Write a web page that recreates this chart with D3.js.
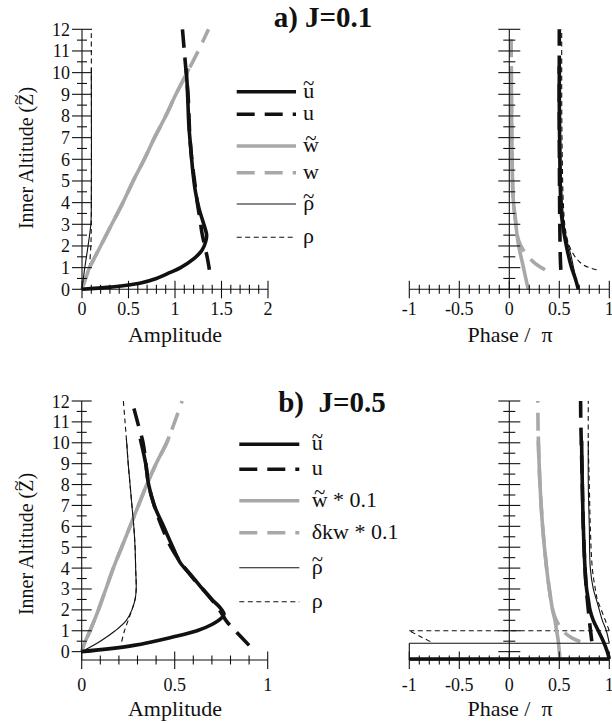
<!DOCTYPE html>
<meta charset="utf-8">
<script src="https://d3js.org/d3.v7.min.js"></script>
<style>
  body { margin: 0; background: #fff; }
  svg { display: block; }
</style>
<div id="my_dataviz"></div>
<script>

  // ---- data: [value, Z] pairs ----
  // a) J=0.1, amplitude
  var ampA_ut = [[0,0],[0.3,0.1],[0.62,0.28],[0.8,0.5],[0.95,0.78],[1.06,1.0],[1.2,1.4],[1.29,1.8],[1.33,2.2],[1.34,2.5],[1.31,3],[1.26,3.7],[1.22,4.5],[1.19,5.5],[1.17,6.5],[1.15,7.5],[1.14,8.5],[1.13,9.5],[1.12,10.2]];
  var ampA_u  = [[1.37,0.9],[1.35,1.4],[1.32,2],[1.29,2.6],[1.27,3.2],[1.24,4],[1.21,5],[1.18,6],[1.16,7],[1.15,8],[1.14,9],[1.12,10],[1.1,11],[1.08,12]];
  var ampA_wt = [[0,0],[0.04,0.5],[0.08,1],[0.14,1.5],[0.2,2],[0.32,3],[0.44,4],[0.55,5],[0.67,6],[0.78,7],[0.9,8],[1.01,9],[1.13,10],[1.15,10.2]];
  var ampA_w  = [[0.08,1],[0.14,1.5],[0.2,2],[0.32,3],[0.44,4],[0.55,5],[0.67,6],[0.78,7],[0.9,8],[1.01,9],[1.13,10],[1.25,11],[1.36,12]];
  var ampA_rt = [[0,0],[0.03,1],[0.065,2],[0.095,3],[0.1,3.6],[0.1,10.2]];
  var ampA_r  = [[0.08,1],[0.095,2],[0.1,3],[0.1,12]];

  // a) J=0.1, phase / pi
  var phA_ut = [[0.69,0],[0.66,0.5],[0.62,1.04],[0.58,1.8],[0.547,2.6],[0.524,3.35],[0.514,4.1],[0.507,5.5],[0.503,7],[0.5,8.5],[0.5,10.3]];
  var phA_u  = [[0.515,0.9],[0.51,1.5],[0.505,3],[0.502,5],[0.5,8],[0.5,12]];
  var phA_wt = [[0.19,0],[0.165,0.5],[0.14,1.04],[0.09,2.1],[0.057,3.35],[0.04,4.1],[0.03,5.5],[0.025,7],[0.022,8.5],[0.02,10.3]];
  var phA_w  = [[0.357,0.9],[0.24,1.27],[0.14,1.8],[0.09,2.3],[0.06,3.3],[0.04,4.1],[0.03,5.5],[0.025,7],[0.022,8.5],[0.02,10],[0.018,12]];
  var phA_rt = [[0.69,0],[0.66,0.6],[0.62,1.5],[0.56,2.6],[0.53,4],[0.515,6],[0.51,8],[0.51,10.2]];
  var phA_r  = [[0.873,0.9],[0.75,1.1],[0.67,1.43],[0.6,2],[0.56,2.8],[0.54,4],[0.53,6],[0.525,8],[0.524,10],[0.524,12]];

  // b) J=0.5, amplitude
  var ampB_ut = [[0,0],[0.28,0.3],[0.49,0.7],[0.62,1.0],[0.7,1.3],[0.75,1.6],[0.765,1.8],[0.745,2.1],[0.7,2.5],[0.64,3.1],[0.58,3.75],[0.53,4.25],[0.49,5],[0.44,6],[0.39,7],[0.36,8],[0.344,9],[0.32,10],[0.315,10.2]];
  var ampB_u  = [[0.9,0.3],[0.83,0.96],[0.78,1.44],[0.74,2],[0.68,2.7],[0.6,3.5],[0.53,4.3],[0.48,5],[0.43,6],[0.39,7],[0.36,8],[0.345,9],[0.33,10],[0.3,11],[0.27,12]];
  var ampB_wt = [[0,0],[0.02,0.5],[0.045,1],[0.09,2],[0.13,3],[0.17,4],[0.215,5],[0.26,6],[0.305,7],[0.35,8],[0.4,9],[0.457,10],[0.47,10.3]];
  var ampB_w  = [[0.03,0.7],[0.045,1],[0.09,2],[0.13,3],[0.17,4],[0.215,5],[0.26,6],[0.305,7],[0.35,8],[0.4,9],[0.457,10],[0.5,11],[0.54,12]];
  var ampB_rt = [[0,0],[0.1,0.5],[0.18,1],[0.24,1.5],[0.27,2],[0.287,2.5],[0.293,3],[0.29,4],[0.287,5],[0.28,6],[0.27,7],[0.26,8],[0.25,9],[0.242,10],[0.24,10.2]];
  var ampB_r  = [[0.215,0.48],[0.23,1],[0.25,1.5],[0.27,2],[0.287,2.5],[0.293,3],[0.29,4],[0.287,5],[0.28,6],[0.27,7],[0.26,8],[0.25,9],[0.242,10],[0.233,11],[0.224,12]];

  // b) J=0.5, phase / pi (jumps of 2 are the wrap from +1 to -1)
  var phB_ut = [[0.723,10.1],[0.73,8],[0.74,6],[0.757,4],[0.773,3],[0.79,2.5],[0.807,2],[0.84,1.5],[0.89,1],[0.94,0.5],[0.98,0],[1,-0.35],[-1,-0.35]];
  var phB_u  = [[0.825,0.5],[0.805,1.3],[0.79,2],[0.77,3],[0.757,4],[0.74,6],[0.73,8],[0.72,10],[0.715,11],[0.713,12]];
  var phB_wt = [[0.507,-0.4],[0.5,0],[0.49,0.5],[0.473,1],[0.457,1.5],[0.433,2],[0.4,3],[0.373,4],[0.333,6],[0.307,8],[0.29,10.3]];
  var phB_w  = [[0.71,0.48],[0.63,0.65],[0.56,0.88],[0.52,1.1],[0.47,1.5],[0.433,2],[0.4,3],[0.373,4],[0.333,6],[0.307,8],[0.29,10],[0.287,11],[0.285,12]];
  var phB_rt = [[-1,-0.4],[-1,0.4],[1,0.4],[0.97,1],[0.93,1.5],[0.9,2],[0.87,2.5],[0.84,3],[0.81,4],[0.8,6],[0.79,8],[0.79,10.1]];
  var phB_r  = [[-0.79,0.48],[-0.9,0.75],[-1,1.0],[1,1.0],[0.96,1.5],[0.92,2],[0.88,2.5],[0.86,3],[0.83,4],[0.81,6],[0.8,8],[0.79,10],[0.79,12]];

  // tick labels and legend texts ("~" marks a tilde over the next letter)
  var zTicks = [0,1,2,3,4,5,6,7,8,9,10,11,12];
  var ampATicks = [0, 0.5, 1, 1.5, 2];
  var ampBTicks = [0, 0.5, 1];
  var phaseTicks = [-1, -0.5, 0, 0.5, 1];
  var legendA = ["~u", "u", "~w", "w", "~ρ", "ρ"];
  var legendB = ["~u", "u", "~w * 0.1", "δkw * 0.1", "~ρ", "ρ"];
  var yTitle = "Inner Altitude (~Z)";

  // ---- styles ----
  var FONT = "'Liberation Serif', 'Times New Roman', 'DejaVu Serif', serif";
  var gray = "#a8a8a8", ink = "#111";
  var styles = {
    ut: { color: ink, width: 3.6, dash: null },
    u:  { color: ink, width: 3.6, dash: "18,10" },
    wt: { color: gray, width: 3.6, dash: null },
    w:  { color: gray, width: 3.6, dash: "18,10" },
    rt: { color: ink, width: 1.1, dash: null },
    r:  { color: ink, width: 1.1, dash: "5,3.5" }
  };
  var order = ["w", "u", "r", "wt", "ut", "rt"];
  var tickFont = 18;

  var svg = d3.select("#my_dataviz")
    .append("svg")
    .attr("width", 612)
    .attr("height", 724)
    .attr("font-family", FONT)
    .attr("fill", ink);

  function measure(txt, size) {
    var t = svg.append("text").attr("font-size", size).style("white-space", "pre").text(txt);
    var w = t.node().getComputedTextLength();
    t.remove();
    return w;
  }

  // one text element; "~" lifts a tilde over the following letter
  function rich(parent, str, x, y, size, anchor, lift) {
    var t = parent.append("text").attr("x", x).attr("y", y).attr("font-size", size)
      .attr("text-anchor", anchor).style("white-space", "pre");
    var back = null, cur = "";
    function flush() {
      if (!cur && !back) return;
      var s = t.append("tspan").text(cur);
      if (back) s.attr("dx", back.dx).attr("dy", back.dy);
      back = null; cur = "";
    }
    for (var i = 0; i < str.length; i++) {
      if (str[i] === "~") {
        flush();
        var ch = str[i + 1], cap = /[A-Z]/.test(ch);
        var wb = measure(ch, size), ts = size * 0.95, wt = measure("~", ts);
        var dy = size * (cap ? 0.5 : lift);
        t.append("tspan").text(ch);
        t.append("tspan").text("~").attr("font-size", ts)
          .attr("dx", -(wb + wt) / 2).attr("dy", -dy);
        back = { dx: (wb - wt) / 2, dy: dy };
        i++;
      } else cur += str[i];
    }
    flush();
    return t;
  }

  var panels = [
    { xr: [82, 268], yr: [289.3, 29.3], xd: [0, 2], zd: [0, 12], ticks: ampATicks, step: 0.1, yLab: true, big: false,
      labY: 315, series: { ut: ampA_ut, u: ampA_u, wt: ampA_wt, w: ampA_w, rt: ampA_rt, r: ampA_r } },
    { xr: [409.3, 609.3], yr: [289.3, 29.3], xd: [-1, 1], zd: [0, 12], ticks: phaseTicks, step: 0.1, yLab: false, big: true,
      labY: 315, series: { ut: phA_ut, u: phA_u, wt: phA_wt, w: phA_w, rt: phA_rt, r: phA_r } },
    { xr: [81.7, 267.7], yr: [660, 401], xd: [0, 1], zd: [-0.4, 12], ticks: ampBTicks, step: 0.1, yLab: true, big: false,
      labY: 691, series: { ut: ampB_ut, u: ampB_u, wt: ampB_wt, w: ampB_w, rt: ampB_rt, r: ampB_r } },
    { xr: [409.3, 609.3], yr: [660, 401], xd: [-1, 1], zd: [-0.4, 12], ticks: phaseTicks, step: 0.1, yLab: false, big: true,
      labY: 691, series: { ut: phB_ut, u: phB_u, wt: phB_wt, w: phB_w, rt: phB_rt, r: phB_r } }
  ];

  panels.forEach(function (p) {
    var x = d3.scaleLinear().domain(p.xd).range(p.xr);
    var y = d3.scaleLinear().domain(p.zd).range(p.yr);
    var g = svg.append("g");
    var x0 = x(0), yb = y(p.zd[0]);

    // curves: split where the phase wraps, straight connector across
    var curve = d3.line().x(function (d) { return x(d[0]); }).y(function (d) { return y(d[1]); })
      .curve(d3.curveCatmullRom.alpha(0.5));
    order.forEach(function (k) {
      var pts = p.series[k], st = styles[k];
      var segs = [[pts[0]]], joins = [];
      for (var i = 1; i < pts.length; i++) {
        if (Math.abs(pts[i][0] - pts[i - 1][0]) > 1.5 || (pts[i][1] === pts[i - 1][1])) {
          joins.push([pts[i - 1], pts[i]]);
          segs.push([pts[i]]);
        } else segs[segs.length - 1].push(pts[i]);
      }
      var d = segs.filter(function (s) { return s.length > 1; }).map(function (s) { return curve(s); }).join("");
      joins.forEach(function (j) { d += "M" + x(j[0][0]) + "," + y(j[0][1]) + "L" + x(j[1][0]) + "," + y(j[1][1]); });
      g.append("path")
        .attr("d", d)
        .attr("fill", "none")
        .attr("stroke", st.color)
        .attr("stroke-width", st.width)
        .attr("stroke-dasharray", st.dash);
    });

    // x axis
    var ax = g.append("g").attr("stroke", ink).attr("stroke-width", 1.1);
    ax.append("line").attr("x1", x(p.xd[0])).attr("x2", x(p.xd[1])).attr("y1", yb).attr("y2", yb);
    d3.range(p.xd[0], p.xd[1] + 1e-9, p.step).forEach(function (v) {
      var major = p.ticks.some(function (t) { return Math.abs(t - v) < 1e-6; });
      ax.append("line").attr("x1", x(v)).attr("x2", x(v))
        .attr("y1", yb - (major ? 8.5 : 4.5)).attr("y2", yb + (major ? 9 : 4.5));
    });
    g.selectAll(null).data(p.ticks).enter().append("text")
      .attr("x", function (d) { return x(d); })
      .attr("y", p.labY)
      .attr("text-anchor", "middle")
      .attr("font-size", tickFont)
      .text(function (d) { return d; });

    // y axis
    ax.append("line").attr("x1", x0).attr("x2", x0).attr("y1", yb).attr("y2", y(12));
    var maj = p.big ? 11 : 10, mnr = p.big ? 6 : 5;
    zTicks.forEach(function (t) {
      ax.append("line").attr("x1", x0 - maj).attr("x2", x0 + maj).attr("y1", y(t)).attr("y2", y(t));
      if (t < 12) ax.append("line").attr("x1", x0 - mnr).attr("x2", x0 + mnr).attr("y1", y(t + 0.5)).attr("y2", y(t + 0.5));
    });
    if (p.yLab) {
      g.selectAll(null).data(zTicks).enter().append("text")
        .attr("x", x0 - 12)
        .attr("y", function (d) { return y(d) + 6.5; })
        .attr("text-anchor", "end")
        .attr("font-size", tickFont)
        .text(function (d) { return d; });
    }
  });

  // axis titles
  function title(txt, xx, yy, size, bold) {
    var t = svg.append("text")
      .attr("x", xx).attr("y", yy)
      .attr("text-anchor", "middle")
      .attr("font-size", size)
      .style("white-space", "pre")
      .text(txt);
    if (bold) t.attr("font-weight", "bold");
    return t;
  }
  title("Amplitude", 175, 342, 22);
  title("Phase /  π", 510, 342, 22);
  title("Amplitude", 175, 716, 22);
  title("Phase /  π", 510, 716, 22);
  title("a) J=0.1", 323, 27, 29, true);
  title("b)  J=0.5", 332, 412, 29, true);
  rich(svg, yTitle, 0, 0, 20, "middle").attr("transform", "translate(33,158) rotate(-90)");
  rich(svg, yTitle, 0, 0, 20, "middle").attr("transform", "translate(33,544) rotate(-90)");

  // legends
  function legend(labels, x1, x2, tx, ys) {
    var keys = ["ut", "u", "wt", "w", "rt", "r"];
    labels.forEach(function (lab, i) {
      var st = styles[keys[i]];
      svg.append("line")
        .attr("x1", x1).attr("x2", x2).attr("y1", ys[i]).attr("y2", ys[i])
        .attr("stroke", st.color).attr("stroke-width", st.width)
        .attr("stroke-dasharray", st.dash);
      rich(svg, lab, tx, ys[i] + 6, 22, "start", 0.34);
    });
  }
  legend(legendA, 236.7, 296, 303, [91.7, 114.3, 146, 172.7, 204, 237.3]);
  legend(legendB, 239.3, 299.3, 311.7, [444.3, 469.3, 500.7, 532.7, 567.7, 601.7]);

</script>
